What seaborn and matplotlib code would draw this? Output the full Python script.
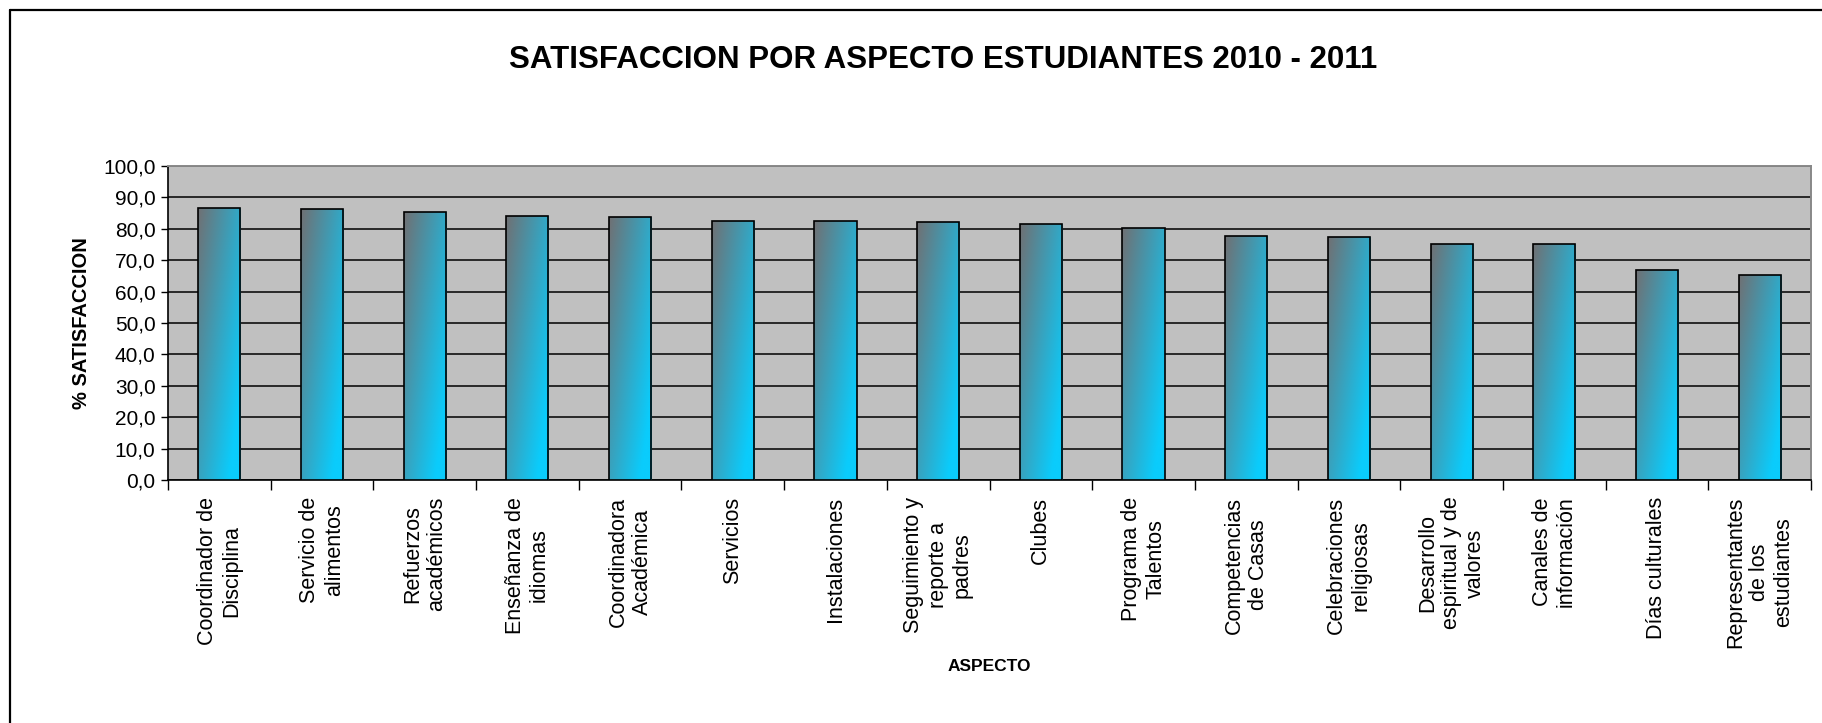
import numpy as np
import pandas as pd
import matplotlib
matplotlib.use("Agg")
import matplotlib.pyplot as plt
import seaborn as sns
from matplotlib.lines import Line2D
from matplotlib.ticker import FixedLocator, FuncFormatter

# ---------------- data ----------------
categories = [
    "Coordinador de\nDisciplina",
    "Servicio de\nalimentos",
    "Refuerzos\nacadémicos",
    "Enseñanza de\nidiomas",
    "Coordinadora\nAcadémica",
    "Servicios",
    "Instalaciones",
    "Seguimiento y\nreporte a\npadres",
    "Clubes",
    "Programa de\nTalentos",
    "Competencias\nde Casas",
    "Celebraciones\nreligiosas",
    "Desarrollo\nespiritual y de\nvalores",
    "Canales de\ninformación",
    "Días culturales",
    "Representantes\nde los\nestudiantes",
]
values = [86.7, 86.3, 85.2, 84.2, 83.7, 82.6, 82.6, 82.1,
          81.5, 80.1, 77.8, 77.3, 75.3, 75.3, 67.0, 65.3]
yticks = [0, 10, 20, 30, 40, 50, 60, 70, 80, 90, 100]

title = "SATISFACCION POR ASPECTO ESTUDIANTES 2010 - 2011"
xlabel = "ASPECTO"
ylabel = "% SATISFACCION"

df = pd.DataFrame({"aspecto": categories, "valor": values})

# ---------------- style ----------------
sns.set_style("white")
plt.rcParams["font.family"] = ["Liberation Sans", "DejaVu Sans"]
for k in ["text.color", "axes.labelcolor", "xtick.color", "ytick.color"]:
    plt.rcParams[k] = "black"

W, H, DPI = 1822, 723, 100
fig = plt.figure(figsize=(W / DPI, H / DPI), dpi=DPI)
fig.patch.set_facecolor("white")

left, right, top, bottom = 168, 1811, 166, 480
ax = fig.add_axes([left / W, 1 - bottom / H, (right - left) / W, (bottom - top) / H])
ax.set_facecolor("#C0C0C0")

sns.barplot(data=df, x="aspecto", y="valor", ax=ax, width=0.41,
            color="#4ab0d8", edgecolor="black", linewidth=1.2,
            saturation=1, errorbar=None, zorder=3)

# gradient fill clipped to each bar (gray top-left -> cyan bottom-right)
c0 = np.array([112, 112, 115]) / 255.0
c1 = np.array([10, 204, 252]) / 255.0
nx, ny = 60, 200
gx = np.linspace(0, 1, nx)[None, :]
gy = np.linspace(0, 1, ny)[:, None]  # row 0 = top (origin upper)
t = np.clip(0.62 * gx + 0.55 * gy, 0, 1)
grad = c0[None, None, :] * (1 - t[..., None]) + c1[None, None, :] * t[..., None]

for p in list(ax.patches):
    x0, y0 = p.get_x(), p.get_y()
    w, h = p.get_width(), p.get_height()
    im = ax.imshow(grad, extent=[x0, x0 + w, y0, y0 + h], origin="upper",
                   aspect="auto", zorder=3.1, interpolation="bilinear")
    im.set_clip_path(p)
    p.set_facecolor("none")
    p.set_zorder(3.2)

ax.set_xlim(-0.5, len(categories) - 0.5)
ax.set_ylim(0, 100)
ax.set_aspect("auto")

# grid
ax.yaxis.set_major_locator(FixedLocator(yticks))
ax.yaxis.set_major_formatter(FuncFormatter(lambda v, pos: f"{v:.1f}".replace(".", ",")))
ax.grid(axis="y", color="black", linewidth=1.1)
ax.grid(axis="x", visible=False)
ax.set_axisbelow(True)

# spines
for s in ["left", "bottom"]:
    ax.spines[s].set_color("black")
    ax.spines[s].set_linewidth(1.2)
for s in ["top", "right"]:
    ax.spines[s].set_color("#888888")
    ax.spines[s].set_linewidth(1.4)
    ax.spines[s].set_visible(True)

# ticks
ax.tick_params(axis="y", which="major", direction="out", length=5, width=1,
               color="black", labelsize=15, pad=4, left=True)
ax.xaxis.set_minor_locator(FixedLocator(np.arange(-0.5, len(categories), 1.0)))
ax.tick_params(axis="x", which="minor", direction="out", length=7, width=1,
               color="black", bottom=True)
ax.tick_params(axis="x", which="major", length=0, pad=12, labelsize=15.5,
               labelrotation=90, bottom=True)
for lbl in ax.get_xticklabels():
    lbl.set_verticalalignment("top")
    lbl.set_horizontalalignment("center")
    lbl.set_multialignment("center")
    lbl.set_linespacing(1.2)

ax.set_xlabel(xlabel, fontsize=12.5, fontweight="bold")
ax.xaxis.set_label_coords(0.5, -0.57)
ax.set_ylabel(ylabel, fontsize=14.5, fontweight="bold")
ax.yaxis.set_label_coords(-0.047, 0.5)

fig.text(943 / W, 1 - 60 / H, title, ha="center", va="center",
         fontsize=22.5, fontweight="bold")

# outer chart frame (left and top edges visible)
fig.add_artist(Line2D([9.5 / W, 9.5 / W], [0, 1 - 10 / H], transform=fig.transFigure,
                      color="black", linewidth=1.6))
fig.add_artist(Line2D([9.5 / W, 1], [1 - 10 / H, 1 - 10 / H], transform=fig.transFigure,
                      color="black", linewidth=1.6))

fig.savefig("out.png", dpi=DPI)
